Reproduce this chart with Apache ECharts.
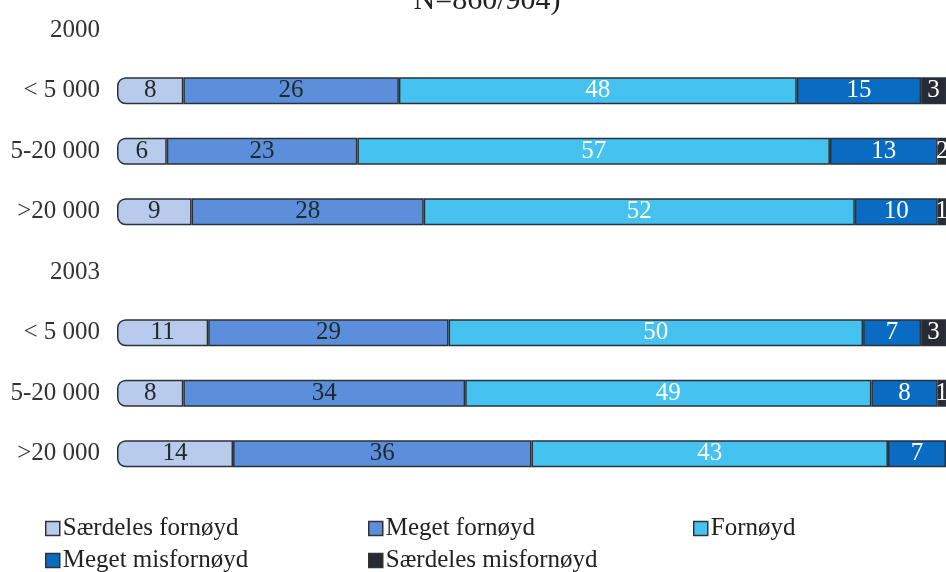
<!DOCTYPE html>
<html>
<head>
<meta charset="utf-8">
<script src="https://cdn.jsdelivr.net/npm/echarts@6/dist/echarts.min.js"></script>
<style>
  html, body { margin: 0; padding: 0; background: #fff; }
  #chart { width: 946px; height: 572px; }
</style>
</head>
<body>
<div id="chart"></div>
<script>
// rows top to bottom; year rows are headings with no bar
const categories = ["2000", "< 5 000", "5-20 000", ">20 000", "2003", "< 5 000", "5-20 000", ">20 000"];
const seriesNames = ["Særdeles fornøyd", "Meget fornøyd", "Fornøyd", "Meget misfornøyd", "Særdeles misfornøyd"];
const saerdelesFornoyd = [null, 8, 6, 9, null, 11, 8, 14];
const megetFornoyd = [null, 26, 23, 28, null, 29, 34, 36];
const fornoyd = [null, 48, 57, 52, null, 50, 49, 43];
const megetMisfornoyd = [null, 15, 13, 10, null, 7, 8, 7];
const saerdelesMisfornoyd = [null, 3, 2, 1, null, 3, 1, 1];

const values = [saerdelesFornoyd, megetFornoyd, fornoyd, megetMisfornoyd, saerdelesMisfornoyd];
const colors = ["#b9cbec", "#5c8fdb", "#46c2f0", "#0a6bc2", "#262b36"];
const labelColors = ["#1e2a2a", "#1e2a2a", "#ffffff", "#ffffff", "#ffffff"];
const serif = "'Liberation Serif', 'DejaVu Serif', serif";

const chart = echarts.init(document.getElementById("chart"));

// legend columns laid out by hand, two rows
const legendPos = [[40, 511], [363, 511], [688, 511], [40, 543], [363, 543]];

chart.setOption({
  animation: false,
  title: {
    text: "N=860/904)",
    left: 482,
    top: -19,
    textAlign: "center",
    textStyle: { fontFamily: serif, fontSize: 30, fontWeight: "normal", color: "#222" },
  },
  legend: seriesNames.map((name, i) => ({
    data: [name],
    left: legendPos[i][0],
    top: legendPos[i][1],
    icon: "rect",
    itemWidth: 14,
    itemHeight: 14,
    itemGap: 4,
    itemStyle: { borderColor: "#333", borderWidth: 1.5 },
    textStyle: { fontFamily: serif, fontSize: 25, color: "#222", padding: [0, 0, 0, -2] },
  })),
  grid: { left: 117, right: 0, top: -2, bottom: 88, containLabel: false },
  xAxis: {
    type: "value",
    min: 0,
    max: 100,
    show: false,
  },
  yAxis: {
    type: "category",
    inverse: true,
    data: categories,
    axisLine: { show: false },
    axisTick: { show: false },
    axisLabel: { fontFamily: serif, fontSize: 25, color: "#333", margin: 17 },
  },
  series: seriesNames.map((name, i) => ({
    name,
    type: "bar",
    stack: "total",
    barWidth: 27,
    data: values[i],
    itemStyle: {
      color: colors[i],
      borderColor: "#2b3138",
      borderWidth: 1.5,
      borderRadius: i === 0 ? [8, 0, 0, 8] : 0,
    },
    label: {
      show: true,
      position: "inside",
      fontFamily: serif,
      fontSize: 25,
      color: labelColors[i],
    },
  })),
});
</script>
</body>
</html>
